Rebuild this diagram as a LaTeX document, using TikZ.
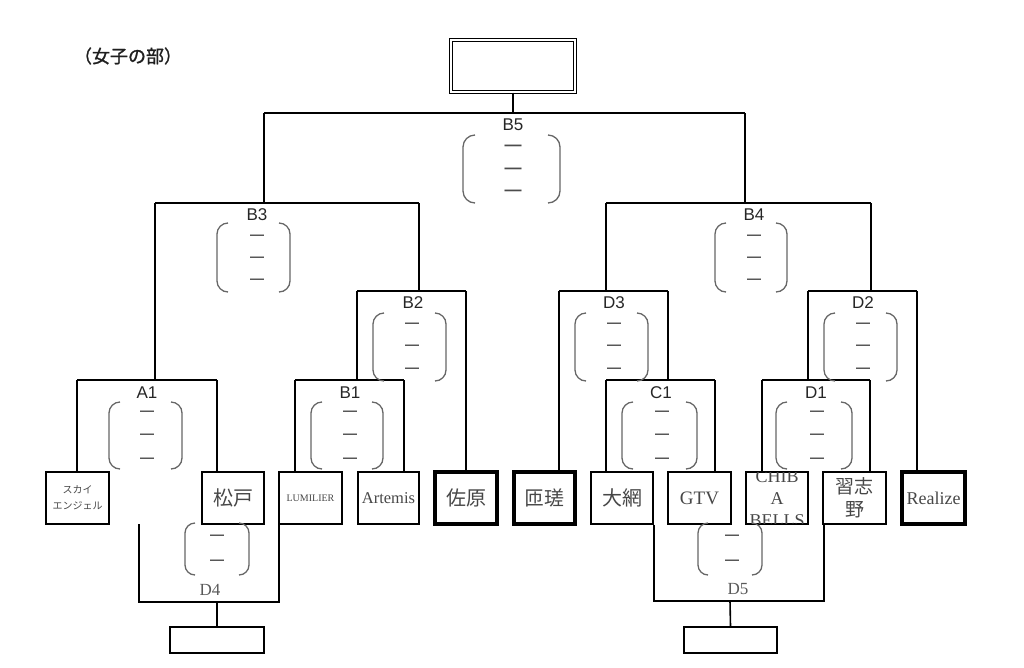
\documentclass[tikz,border=0pt]{standalone}
\usepackage{fontspec}
\setmainfont{Liberation Serif}
\newfontfamily\jp{Noto Sans CJK JP}
\newfontfamily\jpb{Noto Sans CJK JP}[FakeBold=1.2]
\newfontfamily\lsans{Liberation Sans}
\usetikzlibrary{calc}
\newcommand\brpair[5]{% left, right, top, bottom, radius
  \draw[brk] (#1+#5,#3) .. controls (#1+0.45*#5,#3) and (#1,#3+0.45*#5) .. (#1,#3+#5)
     -- (#1,#4-#5) .. controls (#1,#4-0.45*#5) and (#1+0.45*#5,#4) .. (#1+#5,#4);
  \draw[brk] (#2-#5,#3) .. controls (#2-0.45*#5,#3) and (#2,#3+0.45*#5) .. (#2,#3+#5)
     -- (#2,#4-#5) .. controls (#2,#4-0.45*#5) and (#2-0.45*#5,#4) .. (#2-#5,#4);
}
\newcommand\dashes[4]{% name, cx, list of y, font size
  \foreach \yy [count=\i] in {#3}
    \node[dsh, font=\lsans\bfseries\fontsize{#4}{#4}\selectfont] (#1d\i) at (#2,\yy) {—};
}
\begin{document}
\begin{tikzpicture}[x=1pt,y=-1pt,
  ln/.style={line width=1.6pt},
  box/.style={draw, line width=1.6pt, inner sep=0pt, minimum height=52pt, text=black!72, align=center},
  tbox/.style={box, line width=4pt},
  lbl/.style={inner sep=0pt, font=\lsans\fontsize{17}{17}\selectfont, text=black!85},
  slbl/.style={inner sep=0pt, font=\fontsize{17}{17}\selectfont, text=black!65},
  brk/.style={line width=1.3pt, draw=black!60},
  dsh/.style={inner sep=0pt, text=black!70},
  jpl/.style={font=\jp\fontsize{20}{24}\selectfont},
  ltn/.style={font=\fontsize{18}{22}\selectfont}]
\useasboundingbox (0,0) rectangle (1024,667);

% title
\node[inner sep=0pt, font=\jpb\fontsize{18}{18}\selectfont, text=black!88] (title) at (128,56) {（女子の部）};

% final box
\node[draw, double, line width=1.4pt, double distance=1.8pt, minimum width=124pt, minimum height=52pt, inner sep=0pt] (final) at (513,66) {};

% junction coordinates
\coordinate (b5) at (513,113);
\coordinate (b5L) at (264,113); \coordinate (b5R) at (745,113);
\coordinate (b3) at (264,203); \coordinate (b3L) at (155,203); \coordinate (b3R) at (419,203);
\coordinate (b4) at (745,203); \coordinate (b4L) at (606,203); \coordinate (b4R) at (871,203);
\coordinate (a1) at (155,380); \coordinate (a1L) at (77,380); \coordinate (a1R) at (217,380);
\coordinate (b2) at (419,291); \coordinate (b2L) at (357,291); \coordinate (b2R) at (466,291);
\coordinate (b1) at (357,380); \coordinate (b1L) at (295,380); \coordinate (b1R) at (404,380);
\coordinate (d3) at (606,291); \coordinate (d3L) at (559,291); \coordinate (d3R) at (668,291);
\coordinate (d2) at (871,291); \coordinate (d2L) at (808,291); \coordinate (d2R) at (917,291);
\coordinate (c1) at (668,380); \coordinate (c1L) at (606,380); \coordinate (c1R) at (715,380);
\coordinate (d1) at (808,380); \coordinate (d1L) at (762,380); \coordinate (d1R) at (870,380);
\coordinate (d4a) at (139,524); \coordinate (d4c) at (279,602); \coordinate (d4m) at (217,602);
\coordinate (d5c) at (824,601); \coordinate (d5m) at (730,601);

% team boxes
\node[box, minimum width=63pt, font=\jp\fontsize{10}{16}\selectfont] (sky) at (77.5,498) {スカイ\\エンジェル};
\node[box, minimum width=62pt, jpl] (matsudo) at (233,498) {松戸};
\node[box, minimum width=63pt, font=\fontsize{10}{12}\selectfont] (lumi) at (310.5,498) {LUMILIER};
\node[box, minimum width=61pt, font=\fontsize{16.5}{20}\selectfont] (art) at (388.5,498) {Artemis};
\node[tbox, minimum width=62pt, jpl] (sahara) at (466,498) {佐原};
\node[tbox, minimum width=61pt, jpl] (sosa) at (544.5,498) {匝瑳};
\node[box, minimum width=62pt, jpl] (oami) at (622,498) {大網};
\node[box, minimum width=63pt, font=\fontsize{19}{22}\selectfont] (gtv) at (699.5,498) {GTV};
\node[box, minimum width=62pt] (chiba) at (777,498) {};
\begin{scope}
  \clip ($(chiba.north west)+(1.6,1.6)$) rectangle ($(chiba.south east)+(-1.6,-1.6)$);
  \node[inner sep=0pt, align=center, text=black!72, font=\fontsize{18}{22}\selectfont] (chibatxt) at (777,499) {CHIB\\A\\BELLS};
\end{scope}
\node[box, minimum width=63pt, font=\jp\fontsize{19}{23}\selectfont] (nara) at (854.5,498) {習志\\野};
\node[tbox, minimum width=63pt, font=\fontsize{18}{22}\selectfont] (realize) at (933.5,498) {Realize};

% result boxes
\node[box, minimum width=94pt, minimum height=26pt] (d4box) at (217,640) {};
\node[box, minimum width=93pt, minimum height=26pt] (d5box) at (730.5,640) {};

% connectors
\draw[ln] (final.south) -- (b5);
\draw[ln] (b5L) -- (b5R);
\draw[ln] (b5L) -- (b3);
\draw[ln] (b5R) -- (b4);
\draw[ln] (b3L) -- (b3R);
\draw[ln] (b4L) -- (b4R);
\draw[ln] (b3L) -- (a1);
\draw[ln] (b3R) -- (b2);
\draw[ln] (b4L) -- (d3);
\draw[ln] (b4R) -- (d2);
\draw[ln] (a1L) -- (a1R);
\draw[ln] (b2L) -- (b2R);
\draw[ln] (b2L) -- (b1);
\draw[ln] (b1L) -- (b1R);
\draw[ln] (d3L) -- (d3R);
\draw[ln] (d2L) -- (d2R);
\draw[ln] (d3R) -- (c1);
\draw[ln] (d2L) -- (d1);
\draw[ln] (c1L) -- (c1R);
\draw[ln] (d1L) -- (d1R);
\draw[ln] (a1L) -- (a1L |- sky.north);
\draw[ln] (a1R) -- (a1R |- matsudo.north);
\draw[ln] (b1L) -- (b1L |- lumi.north);
\draw[ln] (b1R) -- (b1R |- art.north);
\draw[ln] (b2R) -- (b2R |- sahara.north);
\draw[ln] (d3L) -- (d3L |- sosa.north);
\draw[ln] (c1L) -- (c1L |- oami.north);
\draw[ln] (c1R) -- (c1R |- gtv.north);
\draw[ln] (d1L) -- (d1L |- chiba.north);
\draw[ln] (d1R) -- (d1R |- nara.north);
\draw[ln] (d2R) -- (d2R |- realize.north);
\draw[ln] (d4a) |- (d4c) -- (d4c |- lumi.south);
\draw[ln] (d4m) -- (d4box.north);
\draw[ln] (oami.south east) |- (d5c) -- (d5c |- nara.south);
\draw[ln] (d5m) -- (d5box.north);

% match labels
\node[lbl] (lb5) at (513,125) {B5};
\node[lbl] (lb3) at (257,215) {B3};
\node[lbl] (lb4) at (754,215) {B4};
\node[lbl] (lb2) at (413,303) {B2};
\node[lbl] (ld3) at (614,303) {D3};
\node[lbl] (ld2) at (863,303) {D2};
\node[lbl] (la1) at (147,393) {A1};
\node[lbl] (lb1) at (350,393) {B1};
\node[lbl] (lc1) at (661,393) {C1};
\node[lbl] (ld1) at (816,393) {D1};
\node[slbl] (ld4) at (210,590) {D4};
\node[slbl] (ld5) at (738,589) {D5};

% score brackets
\brpair{463}{560}{135}{203}{12}
\dashes{sb5}{513}{148,171,193}{17}
\brpair{217}{290}{223}{292}{11}
\dashes{sb3}{257}{237,259,281}{14}
\brpair{715}{787}{223}{292}{11}
\dashes{sb4}{754}{237,259,281}{14}
\brpair{373}{446}{313}{381}{11}
\dashes{sb2}{412}{325,347,370}{14}
\brpair{575}{648}{313}{381}{11}
\dashes{sd3}{614}{325,347,370}{14}
\brpair{824}{897}{313}{381}{11}
\dashes{sd2}{863}{325,347,370}{14}
\brpair{109}{182}{402}{469}{11}
\dashes{sa1}{147}{413,436,460}{14}
\brpair{311}{383}{402}{469}{11}
\dashes{sb1}{350}{413,436,460}{14}
\brpair{622}{697}{402}{469}{11}
\dashes{sc1}{662}{413,436,460}{14}
\brpair{776}{852}{402}{469}{11}
\dashes{sd1}{817}{413,436,460}{14}
\brpair{185}{249}{523}{575}{10}
\dashes{sd4}{217}{537,562}{14}
\brpair{698}{762}{523}{575}{10}
\dashes{sd5}{732}{537,562}{14}
\end{tikzpicture}
\end{document}
